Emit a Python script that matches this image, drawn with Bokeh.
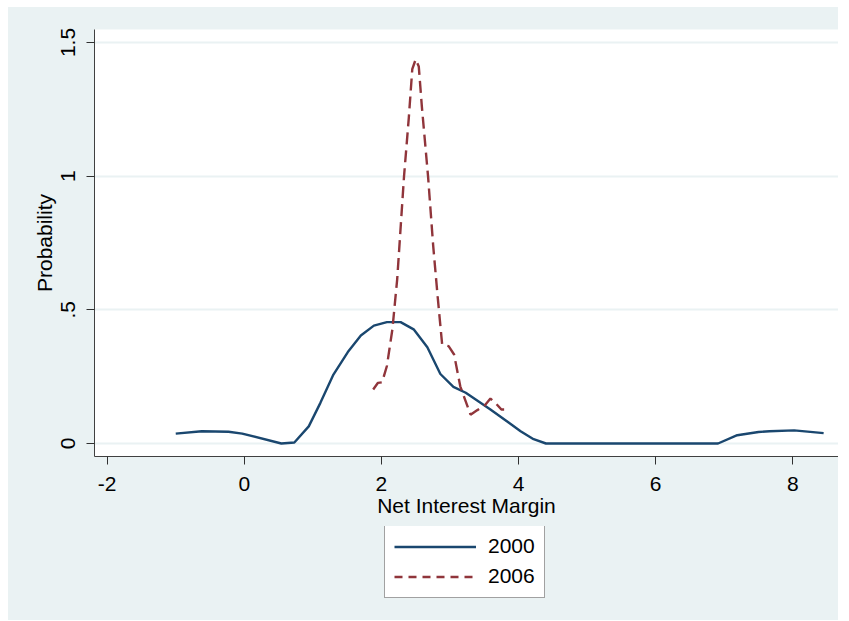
from bokeh.plotting import figure
from bokeh.layouts import column
from bokeh.models import Range1d, FixedTicker, Legend, LegendItem
from bokeh.embed import file_html
from bokeh.resources import INLINE

# 2000 kernel density
x2000 = [-1.0, -0.62, -0.23, -0.03, 0.54, 0.73, 0.94, 1.11, 1.30, 1.51, 1.70, 1.89,
         2.08, 2.28, 2.47, 2.67, 2.86, 3.05, 3.23, 3.59, 3.87, 4.03, 4.22, 4.40,
         6.91, 7.19, 7.50, 7.66, 8.02, 8.45]
y2000 = [0.037, 0.046, 0.044, 0.037, 0.0, 0.004, 0.064, 0.152, 0.258, 0.342, 0.404, 0.441,
         0.454, 0.454, 0.427, 0.36, 0.26, 0.212, 0.19, 0.127, 0.076, 0.046, 0.016, 0.0,
         0.0, 0.031, 0.043, 0.046, 0.049, 0.039]

# 2006 kernel density
x2006 = [1.88, 1.95, 2.01, 2.08, 2.16, 2.23, 2.33, 2.40, 2.45, 2.50, 2.545, 2.59, 2.68,
         2.755, 2.82, 2.886, 2.98, 3.06, 3.15, 3.30, 3.40, 3.50, 3.59, 3.67, 3.75, 3.79]
y2006 = [0.202, 0.227, 0.229, 0.29, 0.427, 0.614, 1.0, 1.22, 1.40, 1.437, 1.41, 1.26, 1.0,
         0.74, 0.55, 0.37, 0.364, 0.333, 0.214, 0.108, 0.125, 0.14, 0.168, 0.15, 0.127, 0.127]

series_labels = ["2000", "2006"]
x_ticks = [-2, 0, 2, 4, 6, 8]
x_tick_labels = ["-2", "0", "2", "4", "6", "8"]
y_ticks = [0, 0.5, 1, 1.5]
y_tick_labels = ["0", ".5", "1", "1.5"]

BG = "#eaf2f3"
BLUE = "#1a476f"
RED = "#90353b"
FONT = "Liberation Sans"
LW = 2.4

# ---- main plot ----
p = figure(frame_width=744, frame_height=427,
           min_border_left=86, min_border_right=0, min_border_top=22, min_border_bottom=70,
           x_range=Range1d(-2.185, 8.667), y_range=Range1d(-0.0486, 1.5486),
           output_backend="svg", toolbar_location=None)
p.background_fill_color = "white"
p.border_fill_color = BG
p.outline_line_color = None

p.line(x2000, y2000, line_color=BLUE, line_width=LW)
p.line(x2006, y2006, line_color=RED, line_width=LW, line_dash="12 6")

p.xgrid.grid_line_color = None
p.ygrid.grid_line_color = BG
p.ygrid.grid_line_width = 2
p.ygrid.ticker = FixedTicker(ticks=y_ticks)

p.xaxis.ticker = FixedTicker(ticks=x_ticks)
p.xaxis.major_label_overrides = {t: l for t, l in zip(x_ticks, x_tick_labels)}
p.yaxis.ticker = FixedTicker(ticks=y_ticks)
p.yaxis.major_label_overrides = {t: l for t, l in zip(y_ticks, y_tick_labels)}
p.yaxis.major_label_orientation = "vertical"

for ax in (p.xaxis, p.yaxis):
    ax.axis_line_color = "#404040"
    ax.axis_line_width = 1
    ax.major_tick_line_color = "#303030"
    ax.major_tick_out = 8
    ax.major_tick_in = 0
    ax.minor_tick_line_color = None
    ax.major_label_text_font = FONT
    ax.major_label_text_font_size = "21px"
    ax.major_label_text_color = "black"
    ax.axis_label_text_font = FONT
    ax.axis_label_text_font_size = "21px"
    ax.axis_label_text_font_style = "normal"
    ax.axis_label_text_color = "black"

p.xaxis.major_label_standoff = 12
p.xaxis.axis_label_standoff = 0
p.yaxis.major_label_standoff = 11
p.yaxis.axis_label_standoff = 3

p.xaxis.axis_label = "Net Interest Margin"
p.yaxis.axis_label = "Probability"

# ---- legend strip (same series, only the legend is in view) ----
q = figure(frame_width=830, frame_height=94,
           min_border_left=0, min_border_right=0, min_border_top=0, min_border_bottom=0,
           x_range=Range1d(100, 101), y_range=Range1d(100, 101),
           x_axis_type=None, y_axis_type=None,
           output_backend="svg", toolbar_location=None)
q.background_fill_color = BG
q.border_fill_color = BG
q.outline_line_color = None
q.xgrid.grid_line_color = None
q.ygrid.grid_line_color = None
l1 = q.line(x2000, y2000, line_color=BLUE, line_width=LW)
l2 = q.line(x2006, y2006, line_color=RED, line_width=LW, line_dash="8 6")

legend = Legend(items=[LegendItem(label=series_labels[0], renderers=[l1]),
                       LegendItem(label=series_labels[1], renderers=[l2])],
                location=(376, 22), orientation="vertical")
legend.label_text_font = FONT
legend.label_text_font_size = "21px"
legend.label_text_color = "black"
legend.glyph_width = 82
legend.glyph_height = 21
legend.label_height = 21
legend.label_standoff = 12
legend.spacing = 6
legend.padding = 9
legend.margin = 0
legend.border_line_color = "#444444"
legend.border_line_width = 1
legend.background_fill_color = "white"
legend.background_fill_alpha = 1
q.add_layout(legend, "center")

layout = column(p, q, spacing=0, margin=(7, 0, 0, 8),
                styles={"background-color": BG})

open("out.html", "w").write(file_html(layout, INLINE))
